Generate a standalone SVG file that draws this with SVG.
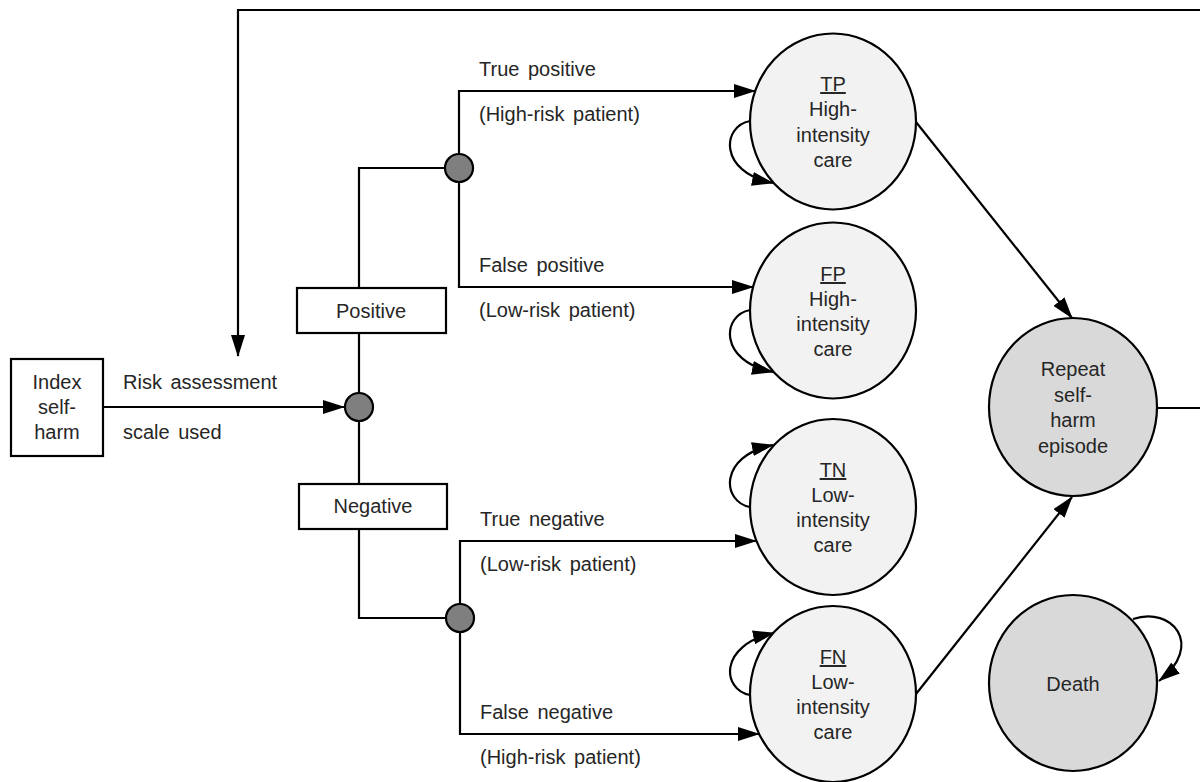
<svg xmlns="http://www.w3.org/2000/svg" width="1200" height="782" viewBox="0 0 1200 782">
<style>
text{font-family:"Liberation Sans",Arial,sans-serif;font-size:20px;fill:#262626}
.c{text-anchor:middle}
.lbl{word-spacing:3px}
.ln{fill:none;stroke:#000;stroke-width:2.2}
.box{fill:#fff;stroke:#000;stroke-width:2.2}
.st{fill:#f2f2f2;stroke:#000;stroke-width:2.2}
.ab{fill:#d9d9d9;stroke:#000;stroke-width:2.2}
.ch{fill:#7f7f7f;stroke:#000;stroke-width:2.2}
.u{text-decoration:underline}
</style>
<defs>
<marker id="ah" viewBox="0 0 22 14" markerWidth="22" markerHeight="14" refX="21" refY="7" orient="auto" markerUnits="userSpaceOnUse">
<path d="M0,0 L22,7 L0,14 z" fill="#000"/>
</marker>
</defs>
<g id="connectors">
<path class="ln" d="M1155,408 H1204 V10 H238 V356" marker-end="url(#ah)"/>
<line class="ln" x1="103" y1="407" x2="344" y2="407" marker-end="url(#ah)"/>
<line class="ln" x1="359" y1="333" x2="359" y2="393"/>
<line class="ln" x1="359" y1="421" x2="359" y2="484"/>
<path class="ln" d="M359,288 V168 H445"/>
<path class="ln" d="M359,529 V618 H446"/>
<path class="ln" d="M459,154 V91 H755" marker-end="url(#ah)"/>
<path class="ln" d="M459,182 V287 H753" marker-end="url(#ah)"/>
<path class="ln" d="M460,604 V541 H756" marker-end="url(#ah)"/>
<path class="ln" d="M460,632 V734 H759" marker-end="url(#ah)"/>
<path class="ln" d="M750,121 C722,126 718,172 773,183" marker-end="url(#ah)"/>
<path class="ln" d="M750,310 C722,315 718,361 773,372" marker-end="url(#ah)"/>
<path class="ln" d="M750,507 C722,502 718,456 773,445" marker-end="url(#ah)"/>
<path class="ln" d="M750,695 C722,690 718,645 774,633" marker-end="url(#ah)"/>
<path class="ln" d="M1133,619 C1172,606 1205,645 1159,681" marker-end="url(#ah)"/>
<line class="ln" x1="916" y1="122" x2="1072" y2="318" marker-end="url(#ah)"/>
<line class="ln" x1="916" y1="694" x2="1072" y2="497" marker-end="url(#ah)"/>
<text x="123" y="389" class="lbl">Risk assessment</text>
<text x="123" y="439" class="lbl">scale used</text>
<text x="479" y="76" class="lbl">True positive</text>
<text x="479" y="121" class="lbl">(High-risk patient)</text>
<text x="479" y="272" class="lbl">False positive</text>
<text x="479" y="317" class="lbl">(Low-risk patient)</text>
<text x="480" y="526" class="lbl">True negative</text>
<text x="480" y="571" class="lbl">(Low-risk patient)</text>
<text x="480" y="719" class="lbl">False negative</text>
<text x="480" y="764" class="lbl">(High-risk patient)</text>
</g>
<g id="index">
<rect class="box" x="11" y="359" width="92" height="97"/>
<text class="c" x="57" y="389">Index</text>
<text class="c" x="57" y="414">self-</text>
<text class="c" x="57" y="439">harm</text>
</g>
<g id="chance-main"><circle class="ch" cx="359" cy="407" r="14"/></g>
<g id="positive">
<rect class="box" x="297" y="288" width="149" height="45"/>
<text class="c" x="371" y="318">Positive</text>
</g>
<g id="negative">
<rect class="box" x="299" y="484" width="148" height="45"/>
<text class="c" x="373" y="513">Negative</text>
</g>
<g id="chance-pos"><circle class="ch" cx="459" cy="168" r="14"/></g>
<g id="chance-neg"><circle class="ch" cx="460" cy="618" r="14"/></g>
<g id="tp">
<ellipse class="st" cx="833" cy="121.5" rx="83" ry="88"/>
<text class="c" x="833" y="91"><tspan class="u">TP</tspan></text>
<text class="c" x="833" y="116">High-</text>
<text class="c" x="833" y="141.5">intensity</text>
<text class="c" x="833" y="166.5">care</text>
</g>
<g id="fp">
<ellipse class="st" cx="833" cy="310.5" rx="83" ry="88"/>
<text class="c" x="833" y="281"><tspan class="u">FP</tspan></text>
<text class="c" x="833" y="306">High-</text>
<text class="c" x="833" y="331">intensity</text>
<text class="c" x="833" y="356">care</text>
</g>
<g id="tn">
<ellipse class="st" cx="833" cy="507" rx="83" ry="88"/>
<text class="c" x="833" y="477"><tspan class="u">TN</tspan></text>
<text class="c" x="833" y="502">Low-</text>
<text class="c" x="833" y="527">intensity</text>
<text class="c" x="833" y="552">care</text>
</g>
<g id="fn">
<ellipse class="st" cx="833" cy="694" rx="83" ry="88"/>
<text class="c" x="833" y="664"><tspan class="u">FN</tspan></text>
<text class="c" x="833" y="689">Low-</text>
<text class="c" x="833" y="714">intensity</text>
<text class="c" x="833" y="739">care</text>
</g>
<g id="repeat">
<ellipse class="ab" cx="1073" cy="407" rx="84" ry="89"/>
<text class="c" x="1073" y="376">Repeat</text>
<text class="c" x="1073" y="401.5">self-</text>
<text class="c" x="1073" y="427">harm</text>
<text class="c" x="1073" y="452.5">episode</text>
</g>
<g id="death">
<ellipse class="ab" cx="1073" cy="683" rx="84" ry="88"/>
<text class="c" x="1073" y="691">Death</text>
</g>
</svg>
